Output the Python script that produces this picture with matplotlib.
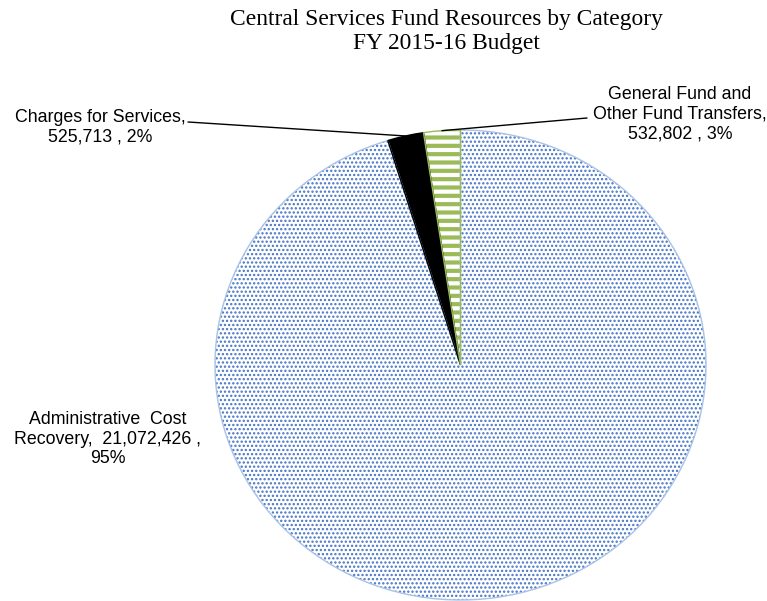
import numpy as np
import matplotlib
matplotlib.use("Agg")
import matplotlib.pyplot as plt

# Resource categories and budget amounts
categories = ["Administrative Cost Recovery", "Charges for Services",
              "General Fund and Other Fund Transfers"]
amounts = [21072426, 525713, 532802]
percents = [95, 2, 3]
label_texts = [
    "Administrative  Cost\nRecovery,  21,072,426 ,\n95%",
    "Charges for Services,\n525,713 , 2%",
    "General Fund and\nOther Fund Transfers,\n532,802 , 3%",
]

W, H = 767, 601
fig = plt.figure(figsize=(W / 100, H / 100), dpi=100)
fig.patch.set_facecolor("white")

# axes spanning the pie area (slightly wider than tall)
cx, cy, rx, ry = 460.5, 365, 245.5, 235
ax = fig.add_axes([(cx - rx) / W, (H - cy - ry) / H, 2 * rx / W, 2 * ry / H])

face = ["white", "black", "white"]
hatches = ["....", None, "--"]
hatch_cols = ["#4472C4", "black", "#9BBB59"]
hatch_lws = [1.1, 1.0, 3.0]

wedges, _ = ax.pie(amounts, startangle=90, counterclock=False,
                   colors=face, hatch=hatches, radius=1.0)
for w, hc, hl in zip(wedges, hatch_cols, hatch_lws):
    w.set_edgecolor(hc)
    w.set_linewidth(0)
    if hasattr(w, "set_hatch_linewidth"):
        w.set_hatch_linewidth(hl)

# outlines drawn on top
outline, _ = ax.pie(amounts, startangle=90, counterclock=False, radius=1.0,
                    wedgeprops=dict(fill=False, linewidth=1.0))
outline[0].set_edgecolor("#A8C2E8")
outline[1].set_edgecolor("black")
outline[2].set_edgecolor("#9BBB59")

ax.set_aspect("auto")
ax.set_xlim(-1, 1)
ax.set_ylim(-1, 1)
ax.axis("off")

label_font = dict(family=["Liberation Sans", "DejaVu Sans"], fontsize=12.8,
                  color="black", ha="center", va="center", linespacing=1.2)

# label centres and leader-line starts, in figure pixels (origin bottom-left)
label_pos = [(108, H - 439), (100, H - 127), (680, H - 114)]
leader_start = [None, (188, H - 122), (587, H - 118)]

for w, txt, pos, start in zip(wedges, label_texts, label_pos, leader_start):
    fig.text(pos[0] / W, pos[1] / H, txt, **label_font)
    if start is not None:
        mid = np.deg2rad((w.theta1 + w.theta2) / 2)
        tip = (w.r * np.cos(mid), w.r * np.sin(mid))
        ax.annotate("", xy=tip, xycoords="data", xytext=start,
                    textcoords="figure pixels",
                    arrowprops=dict(arrowstyle="-", color="black", lw=1.0,
                                    shrinkA=0, shrinkB=0))

fig.text(446 / W, 1 - 9 / H,
         "Central Services Fund Resources by Category\nFY 2015-16 Budget",
         ha="center", va="top", fontsize=16.9, linespacing=1.2,
         family=["Liberation Serif", "DejaVu Serif"])

fig.savefig("out.png", dpi=100)
